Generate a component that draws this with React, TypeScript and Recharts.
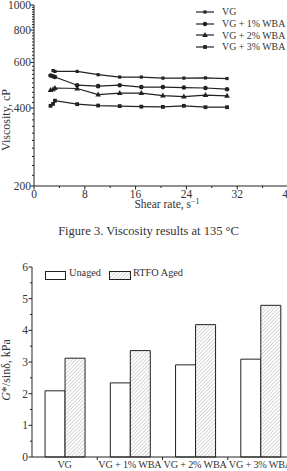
import React from "react";
import { LineChart, Line, BarChart, Bar, XAxis, YAxis, Label } from "recharts";

// viscosity at 135 °C
const shearRate = [2.6, 3.0, 3.3, 6.8, 10.1, 13.5, 16.9, 20.3, 23.6, 27.0, 30.4];
const viscVG = [null, 558, 554, 554, 538, 527, 527, 522, 522, 523, 520];
const viscWBA1 = [534, 531, 527, 490, 486, 490, 482, 482, 480, 478, 473];
const viscWBA2 = [470, 473, 478, 476, 451, 457, 457, 447, 443, 449, 446];
const viscWBA3 = [408, 415, 427, 414, 409, 407, 405, 404, 408, 403, 403];

const viscMajorTicks = [200, 400, 600, 800, 1000];
const shearMajorTicks = [0, 8, 16, 24, 32, 40];

// G*/sin(delta) bars
const binders = ["VG", "VG + 1% WBA", "VG + 2% WBA", "VG + 3% WBA"];
const unaged = [2.09, 2.34, 2.91, 3.09];
const rtfoAged = [3.12, 3.36, 4.18, 4.79];
const gMajorTicks = [0, 1, 2, 3, 4, 5, 6];

const INK = "#222";
const TXT = "#333";
const FONT = "'Liberation Serif', 'DejaVu Serif', serif";

const viscData = shearRate.map((x, i) => ({
  x,
  vg: viscVG[i],
  w1: viscWBA1[i],
  w2: viscWBA2[i],
  w3: viscWBA3[i],
}));

const barData = binders.map((name, i) => ({ name, unaged: unaged[i], rtfo: rtfoAged[i] }));

// minor ticks every 20 cP, every 4 s-1, every 0.5 kPa
const viscTicks: number[] = [];
for (let v = 200; v <= 1000; v += 20) viscTicks.push(v);
const shearTicks: number[] = [];
for (let v = 0; v <= 40; v += 4) shearTicks.push(v);
const gTicks: number[] = [];
for (let v = 0; v <= 6; v += 0.5) gTicks.push(v);

type Shape = "sq" | "circle" | "tri" | "bigsq";

function Marker({ cx, cy, shape }: { cx: number; cy: number; shape: Shape }) {
  if (shape === "circle") return <circle cx={cx} cy={cy} r={2.3} fill={INK} />;
  if (shape === "tri")
    return <polygon points={`${cx},${cy - 3} ${cx - 2.8},${cy + 2} ${cx + 2.8},${cy + 2}`} fill={INK} />;
  const s = shape === "sq" ? 3.2 : 3.8;
  return <rect x={cx - s / 2} y={cy - s / 2} width={s} height={s} fill={INK} />;
}

const dotOf = (shape: Shape) => (p: any) => {
  if (p.cy == null || p.value == null) return <g key={p.key ?? p.index} />;
  return <Marker key={p.key ?? p.index} cx={p.cx} cy={p.cy} shape={shape} />;
};

const ViscYTick = (p: any) => {
  const v = p.payload.value;
  const major = viscMajorTicks.includes(v);
  return (
    <g>
      <line x1={p.x - (major ? 3.5 : 2)} x2={p.x} y1={p.y} y2={p.y} stroke={INK} strokeWidth={1} />
      {major && (
        <text x={p.x - 3} y={p.y} dy="0.35em" textAnchor="end" fontSize={11.5} fill={TXT} fontFamily={FONT}>
          {v}
        </text>
      )}
    </g>
  );
};

const ShearXTick = (p: any) => {
  const v = p.payload.value;
  const major = shearMajorTicks.includes(v);
  return (
    <g>
      <line x1={p.x} x2={p.x} y1={p.y} y2={p.y + (major ? 3.5 : 2)} stroke={INK} strokeWidth={1} />
      {major && (
        <text x={p.x} y={p.y + 11.5} textAnchor="middle" fontSize={11.5} fill={TXT} fontFamily={FONT}>
          {v}
        </text>
      )}
    </g>
  );
};

const GYTick = (p: any) => {
  const v = p.payload.value;
  const major = gMajorTicks.includes(v);
  return (
    <g>
      <line x1={p.x - (major ? 3.5 : 2)} x2={p.x} y1={p.y} y2={p.y} stroke={INK} strokeWidth={1} />
      {major && (
        <text x={p.x - 4} y={p.y} dy="0.35em" textAnchor="end" fontSize={11.5} fill={TXT} fontFamily={FONT}>
          {v}
        </text>
      )}
    </g>
  );
};

const BAND = (300 - 7 - 32) / binders.length;

const BinderXTick = (p: any) => (
  <g>
    {p.index > 0 && (
      <line x1={p.x - BAND / 2} x2={p.x - BAND / 2} y1={p.y} y2={p.y + 3} stroke={INK} strokeWidth={1} />
    )}
    <text
      x={p.x}
      y={p.y + 11}
      textAnchor="middle"
      fontSize={10.2}
      letterSpacing={-0.2}
      fill={TXT}
      fontFamily={FONT}
    >
      {p.payload.value}
    </text>
  </g>
);

const lineSeries: { key: string; name: string; shape: Shape }[] = [
  { key: "vg", name: "VG", shape: "sq" },
  { key: "w1", name: "VG + 1% WBA", shape: "circle" },
  { key: "w2", name: "VG + 2% WBA", shape: "tri" },
  { key: "w3", name: "VG + 3% WBA", shape: "bigsq" },
];

const ViscLegend = () => (
  <div style={{ position: "absolute", left: 196, top: 6, fontSize: 9.9, color: TXT }}>
    {lineSeries.map((s) => (
      <div key={s.key} style={{ display: "flex", alignItems: "center", height: 11.7 }}>
        <svg width={18} height={8} style={{ marginRight: 8 }}>
          <line x1={0} x2={18} y1={4} y2={4} stroke={INK} strokeWidth={1.2} />
          <Marker cx={9} cy={4} shape={s.shape} />
        </svg>
        <span style={{ whiteSpace: "nowrap" }}>{s.name}</span>
      </div>
    ))}
  </div>
);

const BarLegend = () => (
  <div style={{ position: "absolute", left: 0, top: 0, fontSize: 10.3, color: TXT }}>
    <svg width={21} height={9} style={{ position: "absolute", left: 45, top: 270.5 }}>
      <rect x={0.5} y={0.5} width={20} height={8} fill="#fff" stroke={INK} />
    </svg>
    <span style={{ position: "absolute", left: 69, top: 267, whiteSpace: "nowrap" }}>Unaged</span>
    <svg width={22} height={9} style={{ position: "absolute", left: 109, top: 270.5 }}>
      <rect x={0.5} y={0.5} width={21} height={8} fill="url(#hatch)" stroke={INK} />
    </svg>
    <span style={{ position: "absolute", left: 133, top: 267, whiteSpace: "nowrap" }}>RTFO Aged</span>
  </div>
);

export default function App() {
  return (
    <div
      style={{
        position: "absolute",
        left: 0,
        top: 0,
        width: 287,
        height: 471,
        overflow: "hidden",
        background: "#fff",
        fontFamily: FONT,
      }}
    >
      <svg width={0} height={0} style={{ position: "absolute" }}>
        <defs>
          <pattern id="hatch" patternUnits="userSpaceOnUse" width={2.6} height={2.6} patternTransform="rotate(45)">
            <rect width={2.6} height={2.6} fill="#fff" />
            <line x1={0} y1={0} x2={0} y2={2.6} stroke="#9a9a9a" strokeWidth={0.8} />
          </pattern>
        </defs>
      </svg>

      <div style={{ position: "absolute", left: 0, top: 0 }}>
        <LineChart width={300} height={215} data={viscData} margin={{ top: 5, right: 12, left: 0, bottom: 0 }}>
          <XAxis
            dataKey="x"
            type="number"
            domain={[0, 40]}
            ticks={shearTicks}
            interval={0}
            tickSize={0}
            tickMargin={0}
            tick={ShearXTick}
            height={29}
            stroke={INK}
            allowDataOverflow
          >
            <Label
              content={() => (
                <text x={167} y={208} textAnchor="middle" fontSize={11.5} fill={TXT} fontFamily={FONT}>
                  Shear rate, s
                  <tspan dy={-4} fontSize={8}>
                    −1
                  </tspan>
                </text>
              )}
            />
          </XAxis>
          <YAxis
            type="number"
            scale="log"
            domain={[200, 1000]}
            ticks={viscTicks}
            interval={0}
            tickSize={0}
            tickMargin={0}
            tick={ViscYTick}
            width={34}
            stroke={INK}
            allowDataOverflow
          >
            <Label
              content={() => (
                <text
                  x={10}
                  y={120}
                  transform="rotate(-90 10 120)"
                  textAnchor="middle"
                  fontSize={12}
                  fill={TXT}
                  fontFamily={FONT}
                >
                  Viscosity, cP
                </text>
              )}
            />
          </YAxis>
          {lineSeries.map((s) => (
            <Line
              key={s.key}
              dataKey={s.key}
              name={s.name}
              stroke={INK}
              strokeWidth={1.2}
              dot={dotOf(s.shape)}
              activeDot={false}
              isAnimationActive={false}
            />
          ))}
        </LineChart>
      </div>
      <ViscLegend />

      <div
        style={{
          position: "absolute",
          left: 0,
          top: 224,
          width: 297,
          textAlign: "center",
          fontSize: 12.5,
          color: TXT,
        }}
      >
        Figure 3. Viscosity results at 135 °C
      </div>

      <div style={{ position: "absolute", left: 0, top: 255 }}>
        <BarChart
          width={300}
          height={230}
          data={barData}
          margin={{ top: 12, right: 7, left: 0, bottom: 0 }}
          barCategoryGap="20%"
          barGap={0}
        >
          <XAxis
            dataKey="name"
            tickSize={0}
            tickMargin={0}
            tick={BinderXTick}
            interval={0}
            height={28}
            stroke={INK}
          />
          <YAxis
            type="number"
            domain={[0, 6]}
            ticks={gTicks}
            interval={0}
            tickSize={0}
            tickMargin={0}
            tick={GYTick}
            width={32}
            stroke={INK}
          >
            <Label
              content={() => (
                <text
                  x={10}
                  y={115}
                  transform="rotate(-90 10 115)"
                  textAnchor="middle"
                  fontSize={12}
                  fill={TXT}
                  fontFamily={FONT}
                >
                  <tspan fontStyle="italic">G</tspan>*/sinδ, kPa
                </text>
              )}
            />
          </YAxis>
          <Bar dataKey="unaged" name="Unaged" fill="#fff" stroke={INK} strokeWidth={1} isAnimationActive={false} />
          <Bar dataKey="rtfo" name="RTFO Aged" fill="url(#hatch)" stroke={INK} strokeWidth={1} isAnimationActive={false} />
        </BarChart>
      </div>
      <BarLegend />
    </div>
  );
}
